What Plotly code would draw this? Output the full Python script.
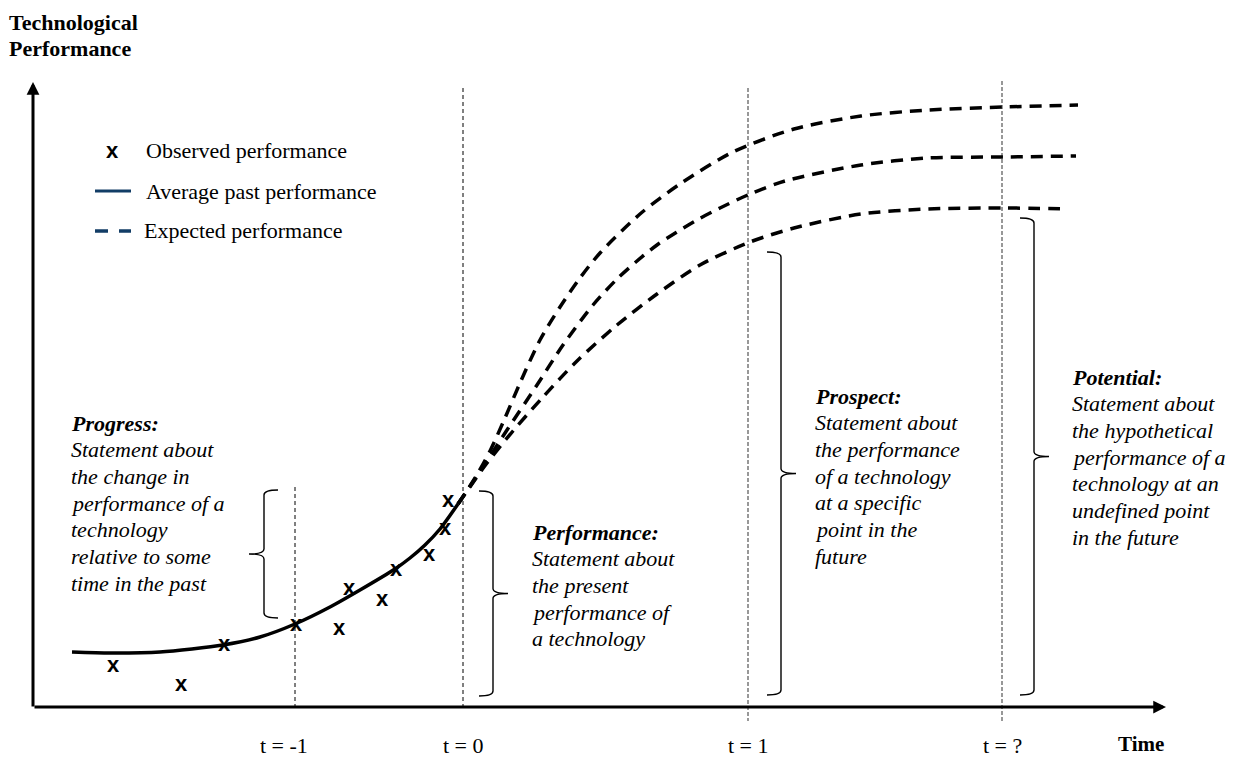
import plotly.graph_objects as go

# page body has an 8px margin: size the figure so that diagram units == window pixels
WIN_W, WIN_H, PAGE_MARGIN = 1235, 758, 8
SERIF = "Liberation Serif, Times New Roman, serif"
SANS = "Liberation Sans, Arial, sans-serif"

# ---------------- data (diagram units; y drawn downward = lower performance) ----------------
# observed performance points
obs_t = [113, 181, 224, 296, 339, 349, 382, 396, 429, 445, 448]
obs_p = [666, 685, 645, 625, 629, 589, 600, 570, 555, 529, 501]

# average past performance (solid curve)
past_t = [72, 110, 160, 223, 260, 295, 330, 360, 395, 410, 425, 440, 458]
past_p = [652, 653, 652, 645, 637, 624, 607, 590, 569, 558, 545, 529, 504]

# expected performance (three dashed scenarios)
high_t = [458, 475, 490, 505, 520, 540, 560, 580, 600, 640, 680, 733, 794, 861, 928, 1004, 1078]
high_p = [504, 478, 451, 418, 383, 340, 307, 278, 253, 214, 184, 152, 129, 116, 110, 107, 105]
mid_t = [458, 483, 507, 537, 563, 593, 617, 637, 657, 677, 697, 720, 750, 785, 861, 928, 1004, 1076]
mid_p = [504, 467, 430, 385, 345, 305, 279, 261, 245, 232, 220, 208, 194, 181, 165, 158, 157, 156]
low_t = [458, 487, 513, 543, 577, 617, 657, 700, 750, 794, 861, 928, 1004, 1068]
low_p = [504, 463, 431, 397, 361, 325, 294, 265, 242, 228, 214, 209, 208, 209]

# time markers
time_labels = ["t = -1", "t = 0", "t = 1", "t = ?"]
time_pos = [295, 463, 748, 1002]
time_top = [487, 88, 88, 81]
time_bottom = [708, 708, 721, 721]

# statements and their brackets
statement_heads = ["Progress:", "Performance:", "Prospect:", "Potential:"]
statement_lines = [
    ["Statement about", "the change in", "performance of a", "technology",
     "relative to some", "time in the past"],
    ["Statement about", "the present", "performance of", "a technology"],
    ["Statement about", "the performance", "of a technology", "at a specific",
     "point in the", "future"],
    ["Statement about", "the hypothetical", "performance of a", "technology at an",
     "undefined point", "in the future"],
]
statement_x = [72, 533, 816, 1073]
statement_y = [423, 532, 396, 377]
bracket_x = [264, 493, 781, 1034]
bracket_top = [490, 491, 252, 218]
bracket_bottom = [618, 696, 695, 695]
bracket_dir = [-1, 1, 1, 1]

legend_labels = ["Observed performance", "Average past performance", "Expected performance"]

# ---------------- figure ----------------
fig = go.Figure()

# time marker lines
for i, p in enumerate(time_pos):
    past = i < 2
    fig.add_trace(go.Scatter(
        x=[p, p], y=[time_top[i], time_bottom[i]], mode="lines",
        line=dict(color="black" if past else "#7f7f7f", width=1 if past else 1.6,
                  dash="4px,3px" if past else "4px,2px"),
        hoverinfo="skip"))

# expected (dashed)
for xs, ys in [(high_t, high_p), (mid_t, mid_p), (low_t, low_p)]:
    fig.add_trace(go.Scatter(
        x=xs, y=ys, mode="lines",
        line=dict(color="black", width=3.5, dash="12px,8px", shape="spline", smoothing=0.8),
        hoverinfo="skip"))

# average past (solid)
fig.add_trace(go.Scatter(
    x=past_t, y=past_p, mode="lines",
    line=dict(color="black", width=3.5, shape="spline", smoothing=0.7),
    hoverinfo="skip"))

# observed points
fig.add_trace(go.Scatter(
    x=obs_t, y=obs_p, mode="text", text=["<b>x</b>"] * len(obs_t),
    textposition="middle center",
    textfont=dict(family=SANS, size=22, color="black"),
    hoverinfo="skip"))

# brackets
shapes = []
HOOK, TIP, R = 14, 15, 5
for xs, top, bot, d in zip(bracket_x, bracket_top, bracket_bottom, bracket_dir):
    mid = (top + bot) / 2
    path = (f"M{xs - d*HOOK},{top} Q{xs},{top} {xs},{top + R} "
            f"L{xs},{mid - R} Q{xs},{mid} {xs + d*TIP},{mid} "
            f"Q{xs},{mid} {xs},{mid + R} "
            f"L{xs},{bot - R} Q{xs},{bot} {xs - d*HOOK},{bot}")
    shapes.append(dict(type="path", xref="x", yref="y", path=path,
                       line=dict(color="black", width=1.4)))

# statement texts
ann = []
GAP = 26.7
FS = 22
LSHIFT = -3
for head, lines, x0, y0 in zip(statement_heads, statement_lines, statement_x, statement_y):
    ann.append(dict(x=x0, y=y0, text=f"<b><i>{head}</i></b>", showarrow=False,
                    xanchor="left", yanchor="middle", xshift=LSHIFT,
                    font=dict(family=SERIF, size=FS, color="black")))
    for k, ln in enumerate(lines):
        ann.append(dict(x=x0, y=y0 + (k + 1) * GAP, text=f"<i>{ln}</i>", showarrow=False,
                        xanchor="left", yanchor="middle", xshift=LSHIFT,
                        font=dict(family=SERIF, size=FS, color="black")))

# time labels
for i, (lab, p) in enumerate(zip(time_labels, time_pos)):
    ann.append(dict(x=p, y=745, text=lab, showarrow=False, xanchor="center",
                    yanchor="middle", xshift=-11 if i == 0 else 0,
                    font=dict(family=SERIF, size=FS, color="black")))
ann.append(dict(x=1141, y=744, text="<b>Time</b>", showarrow=False, xanchor="center",
                yanchor="middle", font=dict(family=SERIF, size=21, color="black")))

# y-axis title
for k, ln in enumerate(["Technological", "Performance"]):
    ann.append(dict(x=10, y=22 + k * 26, text=f"<b>{ln}</b>", showarrow=False,
                    xanchor="left", yanchor="middle", xshift=LSHIFT,
                    font=dict(family=SERIF, size=FS, color="black")))

# axes arrows
ann.append(dict(x=1166, y=707, ax=33, ay=707, xref="x", yref="y", axref="x", ayref="y",
                text="", showarrow=True, arrowhead=2, arrowsize=0.85, arrowwidth=3,
                arrowcolor="black", standoff=0))
ann.append(dict(x=33, y=82, ax=33, ay=708, xref="x", yref="y", axref="x", ayref="y",
                text="", showarrow=True, arrowhead=2, arrowsize=0.85, arrowwidth=3,
                arrowcolor="black", standoff=0))

# legend (drawn in place)
NAVY = "#123d66"
fig.add_trace(go.Scatter(x=[112], y=[152], mode="text", text=["<b>x</b>"],
                         textposition="middle center",
                         textfont=dict(family=SANS, size=22, color="black"),
                         hoverinfo="skip"))
fig.add_trace(go.Scatter(x=[95, 131], y=[191, 191], mode="lines",
                         line=dict(color=NAVY, width=3), hoverinfo="skip"))
fig.add_trace(go.Scatter(x=[95, 131], y=[231, 231], mode="lines",
                         line=dict(color=NAVY, width=3.5, dash="13px,11px"), hoverinfo="skip"))
for lab, yy, xx in zip(legend_labels, [150, 191, 230], [146, 146, 144]):
    ann.append(dict(x=xx, y=yy, text=lab, showarrow=False, xanchor="left", yanchor="middle",
                    xshift=-2, font=dict(family=SERIF, size=FS, color="black")))

fig_w = WIN_W - PAGE_MARGIN
fig_h = WIN_H - PAGE_MARGIN
fig.update_layout(
    width=fig_w, height=fig_h, margin=dict(l=0, r=0, t=0, b=0),
    paper_bgcolor="white", plot_bgcolor="white", showlegend=False,
    xaxis=dict(range=[PAGE_MARGIN, PAGE_MARGIN + fig_w], visible=False, fixedrange=True),
    yaxis=dict(range=[PAGE_MARGIN + fig_h, PAGE_MARGIN], visible=False, fixedrange=True),
    shapes=shapes, annotations=ann,
)

fig.write_html("out.html")
